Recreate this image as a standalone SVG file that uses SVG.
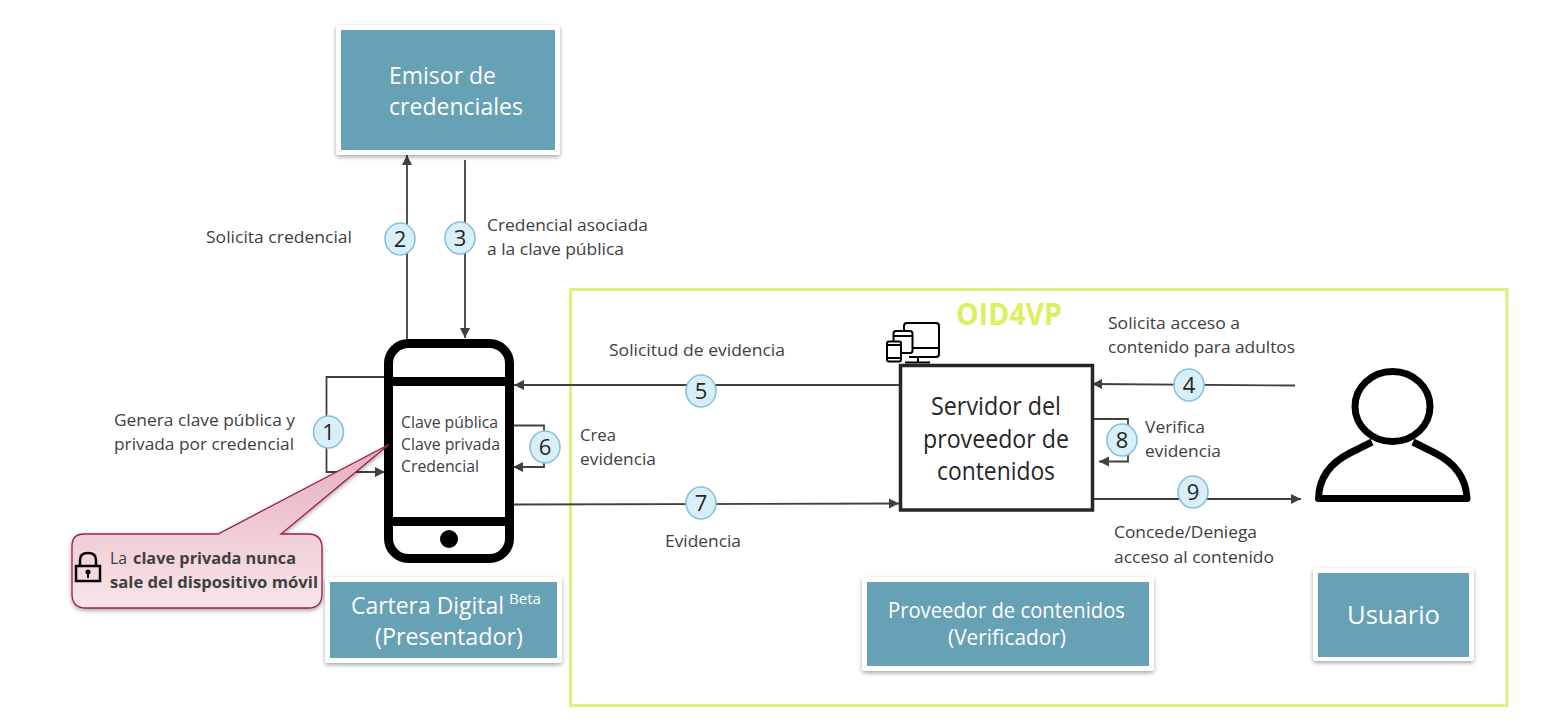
<svg xmlns="http://www.w3.org/2000/svg" width="1550" height="726" viewBox="0 0 1550 726">
<defs>
<style>
text{font-family:"Open Sans","Noto Sans","Liberation Sans",sans-serif;fill:#404040;font-size:16.5px}
.w{fill:#fff;font-size:24px}
.s{fill:#262626;font-size:25px}
.n{fill:#262626;font-size:22px;text-anchor:middle}
.b{font-weight:700}
.card{fill:#fff;filter:url(#sh)}
.teal{fill:#67a1b5}
.bd{fill:#d9eff8;stroke:#84c2de;stroke-width:1.6}
.ln{fill:none;stroke:#404040;stroke-width:1.8}
.k{fill:none;stroke:#000}
</style>
<filter id="sh" x="-10%" y="-10%" width="120%" height="125%"><feDropShadow dx="0" dy="2" stdDeviation="2" flood-color="#000" flood-opacity="0.35"/></filter>
<linearGradient id="pk" x1="0" y1="0" x2="0" y2="1"><stop offset="0" stop-color="#e6aebb"/><stop offset="1" stop-color="#f8e6ea"/></linearGradient>
<marker id="a" markerUnits="userSpaceOnUse" markerWidth="11" markerHeight="11" refX="10" refY="5.500" orient="auto"><path d="M0 0.500L10 5.500L0 10.500Z" fill="#404040"/></marker>
</defs>
<rect id="oid4vp-frame" x="570.500" y="289.500" width="936.500" height="416" fill="none" stroke="#dfef80" stroke-width="3"/>
<g id="oid4vp-label"><text x="956" y="325" class="b" style="fill:#dcef5f;font-size:31px" textLength="106" lengthAdjust="spacingAndGlyphs">OID4VP</text></g>

<g id="connectors">
<path class="ln" d="M407 339V155" marker-end="url(#a)"/>
<path class="ln" d="M465 160V338" marker-end="url(#a)"/>
<path class="ln" d="M385 377H326.500V472H385" marker-end="url(#a)"/>
<path class="ln" d="M899 385H514" marker-end="url(#a)"/>
<path class="ln" d="M1295 385.500L1092 384" marker-end="url(#a)"/>
<path class="ln" d="M505 425.500H544V467H513" marker-end="url(#a)"/>
<path class="ln" d="M514 504.500L899 503.500" marker-end="url(#a)"/>
<path class="ln" d="M1092 419H1128V461.500H1099" marker-end="url(#a)"/>
<path class="ln" d="M1092 499H1301" marker-end="url(#a)"/>
</g>

<g id="emisor"><rect class="card" x="336" y="25" width="224" height="130" rx="3"/><rect class="teal" x="341" y="30" width="214" height="120"/>
<text class="w" x="389" y="84" textLength="107" lengthAdjust="spacingAndGlyphs">Emisor de</text>
<text class="w" x="389" y="115" textLength="134" lengthAdjust="spacingAndGlyphs">credenciales</text></g>

<g id="phone">
<rect x="388.500" y="343.500" width="121" height="215" rx="20" fill="#fff" stroke="#000" stroke-width="9"/>
<rect x="389" y="377" width="120" height="9"/>
<rect x="389" y="517" width="120" height="9"/>
<circle cx="449" cy="539" r="9"/>
<text x="401" y="428" textLength="97" lengthAdjust="spacingAndGlyphs" style="font-size:15.500px">Clave pública</text>
<text x="401" y="450" textLength="99" lengthAdjust="spacingAndGlyphs" style="font-size:15.500px">Clave privada</text>
<text x="401" y="472" textLength="78" lengthAdjust="spacingAndGlyphs" style="font-size:15.500px">Credencial</text>
</g>

<g id="callout">
<path d="M84 534H218L389 444.500L281 534H308Q322 534 322 548V594Q322 608 308 608H86Q72 608 72 594V546Q72 534 84 534Z" fill="url(#pk)" stroke="#9c1c4e" stroke-width="1.3" filter="url(#sh)"/>
<g class="k" stroke-width="2.500"><rect x="76" y="566" width="24" height="15" fill="none"/><path d="M80 566V560Q80 553 88 553Q96 553 96 560V566" fill="none"/></g>
<circle cx="88" cy="572" r="2.500"/><rect x="87" y="572" width="2" height="6"/>
<text x="110" y="564" textLength="17" lengthAdjust="spacingAndGlyphs">La</text>
<text x="133" y="564" class="b" textLength="163" lengthAdjust="spacingAndGlyphs">clave privada nunca</text>
<text x="110" y="588" class="b" textLength="208" lengthAdjust="spacingAndGlyphs">sale del dispositivo móvil</text>
</g>

<g id="cartera"><rect class="card" x="325" y="577" width="237" height="86" rx="3"/><rect class="teal" x="330" y="582" width="227" height="76"/>
<text class="w" x="351" y="614" textLength="153" lengthAdjust="spacingAndGlyphs">Cartera Digital</text>
<text class="w" x="509" y="604" textLength="32" lengthAdjust="spacingAndGlyphs" style="font-size:15px">Beta</text>
<text class="w" x="375" y="645" textLength="148" lengthAdjust="spacingAndGlyphs">(Presentador)</text></g>

<g id="proveedor"><rect class="card" x="862" y="577" width="292" height="94" rx="3"/><rect class="teal" x="867" y="582" width="282" height="84"/>
<text class="w" x="888" y="618" textLength="237" lengthAdjust="spacingAndGlyphs" style="font-size:21px">Proveedor de contenidos</text>
<text class="w" x="948" y="645" textLength="118" lengthAdjust="spacingAndGlyphs" style="font-size:21px">(Verificador)</text></g>

<g id="usuario"><rect class="card" x="1313" y="568" width="161" height="93" rx="3"/><rect class="teal" x="1318" y="573" width="151" height="84"/>
<text class="w" x="1347" y="624" textLength="93" lengthAdjust="spacingAndGlyphs" style="font-size:26px">Usuario</text></g>

<g id="device-icon" class="k" stroke-width="2">
<path d="M904 330V326Q904 323 907 323H936Q939 323 939 326V354Q939 357 936 357H909M912 348H939M918 357V362M905 362.500H930"/>
<rect x="893.500" y="331" width="19" height="22" rx="2.500" fill="#fff"/><path d="M894 336H912"/>
<rect x="887" y="341.500" width="14" height="20" rx="2" fill="#fff"/><path d="M887 345H901M887 358H901"/>
</g>

<g id="server"><rect x="900.500" y="365.500" width="192" height="144.500" fill="#fff" stroke="#262626" stroke-width="3.500"/>
<text class="s" x="931" y="415" textLength="130" lengthAdjust="spacingAndGlyphs">Servidor del</text>
<text class="s" x="923" y="448" textLength="146" lengthAdjust="spacingAndGlyphs">proveedor de</text>
<text class="s" x="937" y="480" textLength="118" lengthAdjust="spacingAndGlyphs">contenidos</text></g>

<g id="user" class="k" stroke-width="7" stroke-linejoin="round">
<ellipse cx="1392.500" cy="406.500" rx="37.500" ry="35"/>
<path d="M1372 442L1350 453C1330 463 1319 478 1318.500 498.500H1467C1466 478 1455 463 1435 453L1413 442"/>
</g>

<g id="labels">
<text x="206" y="243" textLength="146" lengthAdjust="spacingAndGlyphs">Solicita credencial</text>
<text x="487" y="231" textLength="161" lengthAdjust="spacingAndGlyphs">Credencial asociada</text>
<text x="487" y="255" textLength="137" lengthAdjust="spacingAndGlyphs">a la clave pública</text>
<text x="114" y="426" textLength="181" lengthAdjust="spacingAndGlyphs">Genera clave pública y</text>
<text x="114" y="450" textLength="180" lengthAdjust="spacingAndGlyphs">privada por credencial</text>
<text x="580" y="441" textLength="36" lengthAdjust="spacingAndGlyphs">Crea</text>
<text x="580" y="465" textLength="76" lengthAdjust="spacingAndGlyphs">evidencia</text>
<text x="609" y="356" textLength="176" lengthAdjust="spacingAndGlyphs">Solicitud de evidencia</text>
<text x="665" y="547" textLength="76" lengthAdjust="spacingAndGlyphs">Evidencia</text>
<text x="1108" y="329" textLength="132" lengthAdjust="spacingAndGlyphs">Solicita acceso a</text>
<text x="1108" y="353" textLength="187" lengthAdjust="spacingAndGlyphs">contenido para adultos</text>
<text x="1145" y="433" textLength="60" lengthAdjust="spacingAndGlyphs">Verifica</text>
<text x="1145" y="457" textLength="76" lengthAdjust="spacingAndGlyphs">evidencia</text>
<text x="1114" y="538" textLength="143" lengthAdjust="spacingAndGlyphs">Concede/Deniega</text>
<text x="1114" y="563" textLength="160" lengthAdjust="spacingAndGlyphs">acceso al contenido</text>
</g>

<g id="step-1"><ellipse class="bd" cx="328.500" cy="432" rx="15" ry="16"/><text class="n" x="328.500" y="440">1</text></g>
<g id="step-2"><ellipse class="bd" cx="400" cy="239" rx="15" ry="16"/><text class="n" x="400" y="247">2</text></g>
<g id="step-3"><ellipse class="bd" cx="460" cy="238" rx="15" ry="16"/><text class="n" x="460" y="246">3</text></g>
<g id="step-4"><ellipse class="bd" cx="1189" cy="385" rx="15" ry="16"/><text class="n" x="1189" y="393">4</text></g>
<g id="step-5"><ellipse class="bd" cx="701" cy="391" rx="15" ry="16"/><text class="n" x="701" y="399">5</text></g>
<g id="step-6"><ellipse class="bd" cx="545" cy="447" rx="15" ry="16"/><text class="n" x="545" y="455">6</text></g>
<g id="step-7"><ellipse class="bd" cx="701" cy="503" rx="15" ry="16"/><text class="n" x="701" y="511">7</text></g>
<g id="step-8"><ellipse class="bd" cx="1122" cy="440" rx="15" ry="16"/><text class="n" x="1122" y="448">8</text></g>
<g id="step-9"><ellipse class="bd" cx="1193" cy="492" rx="15" ry="16"/><text class="n" x="1193" y="500">9</text></g>
</svg>
